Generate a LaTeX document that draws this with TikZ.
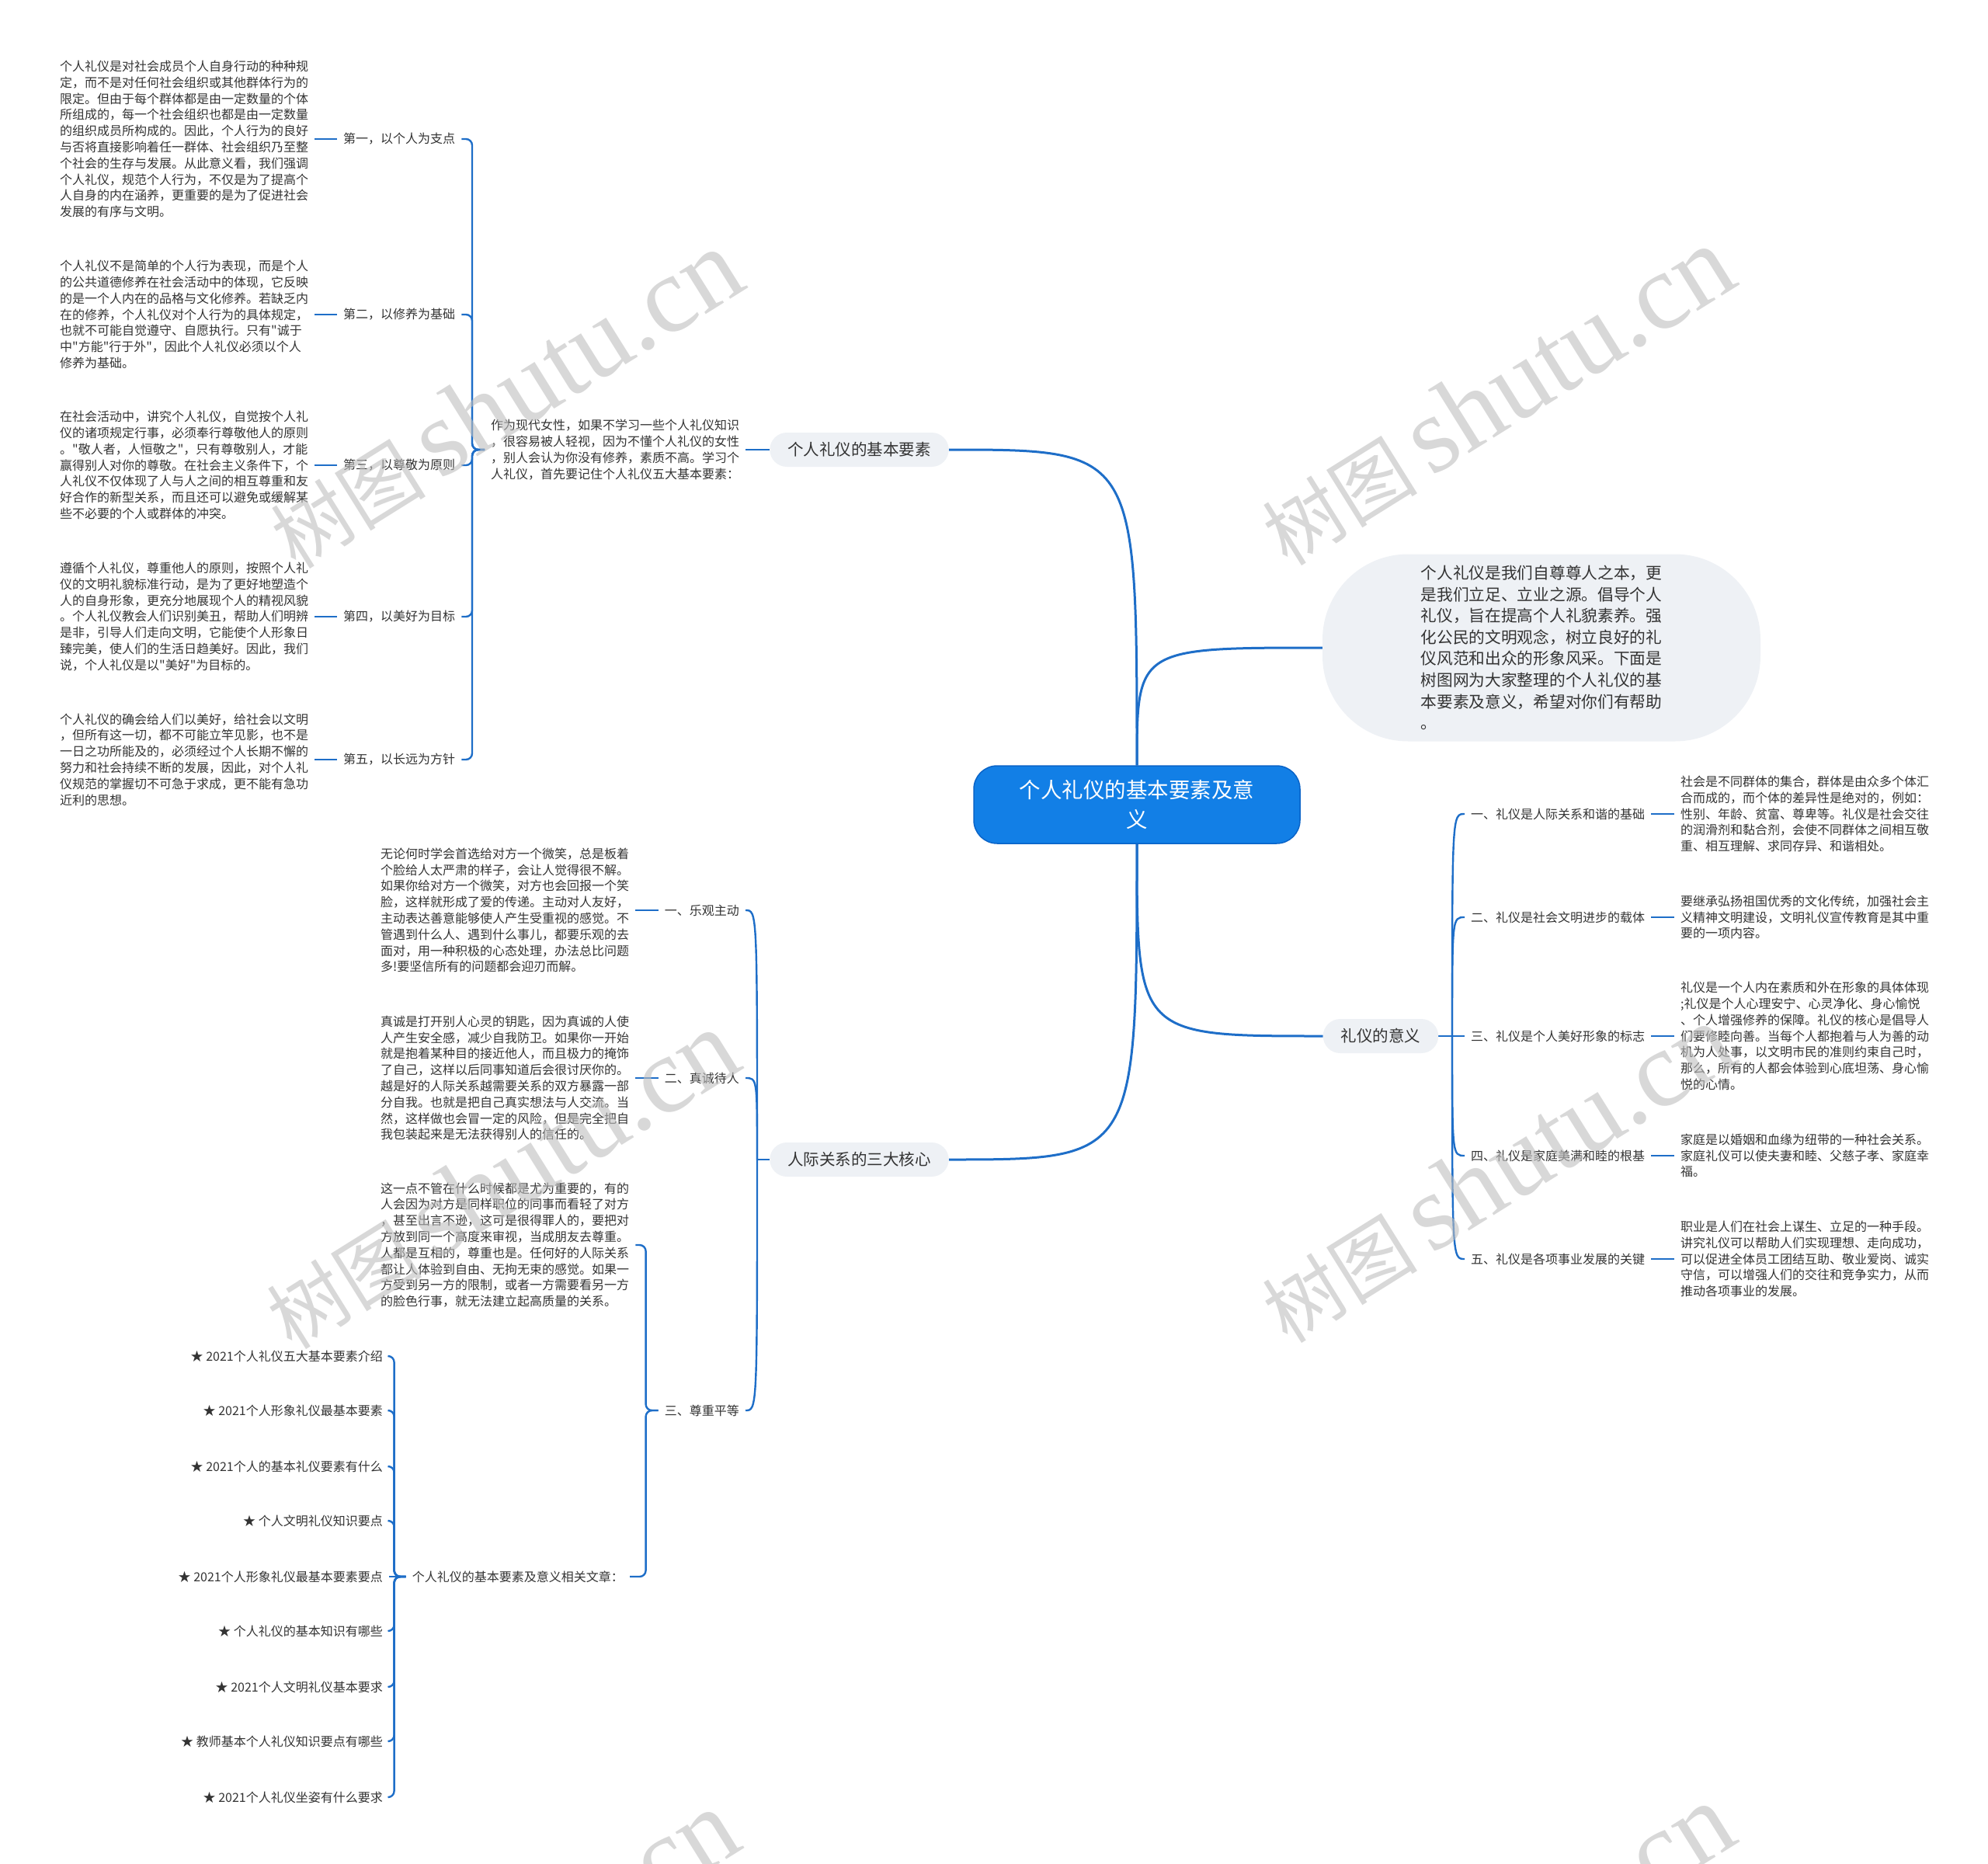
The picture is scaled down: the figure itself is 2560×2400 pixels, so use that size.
\documentclass[tikz,border=0pt]{standalone}
\usepackage{fontspec}
\setmainfont{Noto Sans CJK SC}[Ligatures=TeXOff]
\newfontfamily\wmlatin{Liberation Serif}
\usetikzlibrary{backgrounds,calc}
\definecolor{linkblue}{RGB}{30,110,200}
\definecolor{titlefill}{RGB}{18,127,230}
\definecolor{titledraw}{RGB}{10,100,200}
\definecolor{pillbg}{RGB}{238,241,245}
\definecolor{txt}{RGB}{51,51,51}
\definecolor{wmgray}{RGB}{190,190,190}
\begin{document}
\begin{tikzpicture}[x=1pt,y=-1pt,
  conn/.style={draw=linkblue,line width=2.4pt},
  mainconn/.style={draw=linkblue,line width=3pt},
  body/.style={font=\fontsize{16}{20.8}\selectfont,text=txt,align=left,inner xsep=8pt,inner ysep=0pt},
  lbl/.style={font=\fontsize{16}{20.8}\selectfont,text=txt,inner xsep=8pt,inner ysep=2pt},
  pill/.style={fill=pillbg,rounded corners=22pt,font=\fontsize{20.5}{26}\selectfont,text=txt,minimum height=44pt,inner xsep=23pt,inner ysep=0pt},
  wm/.style={rotate=32,opacity=0.6,text=wmgray,inner sep=0pt}
]
\useasboundingbox (0,0) rectangle (2560,2400);
\clip (0,0) rectangle (2560,2400);

% ---------- centre ----------
\node[fill=titlefill,draw=titledraw,line width=1.5pt,rounded corners=30pt,minimum width=420pt,minimum height=100pt,text=white,align=center,font=\fontsize{27.5}{38}\selectfont] (c) at (1464,1036) {个人礼仪的基本要素及意\\义};

% ---------- level 1 ----------
\node[pill] (b1) at (1106.5,579) {个人礼仪的基本要素};
\node[fill=pillbg,rounded corners=110pt,minimum width=564pt,minimum height=241pt,text=txt,align=left,font=\fontsize{20.7}{27.6}\selectfont] (intro) at (1985,834) {个人礼仪是我们自尊尊人之本，更\\是我们立足、立业之源。倡导个人\\礼仪，旨在提高个人礼貌素养。强\\化公民的文明观念，树立良好的礼\\仪风范和出众的形象风采。下面是\\树图网为大家整理的个人礼仪的基\\本要素及意义，希望对你们有帮助\\。};
\node[pill] (b2) at (1778,1334) {礼仪的意义};
\node[pill] (b3) at (1106.5,1493) {人际关系的三大核心};

% ---------- upper-left branch ----------
\node[body,anchor=west] (p1) at (624,579) {作为现代女性，如果不学习一些个人礼仪知识\\，很容易被人轻视，因为不懂个人礼仪的女性\\，别人会认为你没有修养，素质不高。学习个\\人礼仪，首先要记住个人礼仪五大基本要素：};

\node[lbl,anchor=west] (l1) at (434,179) {第一，以个人为支点};
\node[lbl,anchor=west] (l2) at (434,405) {第二，以修养为基础};
\node[lbl,anchor=west] (l3) at (434,599) {第三，以尊敬为原则};
\node[lbl,anchor=west] (l4) at (434,794) {第四，以美好为目标};
\node[lbl,anchor=west] (l5) at (434,978) {第五，以长远为方针};

\node[body,anchor=west] (a1) at (69,179) {个人礼仪是对社会成员个人自身行动的种种规\\定，而不是对任何社会组织或其他群体行为的\\限定。但由于每个群体都是由一定数量的个体\\所组成的，每一个社会组织也都是由一定数量\\的组织成员所构成的。因此，个人行为的良好\\与否将直接影响着任一群体、社会组织乃至整\\个社会的生存与发展。从此意义看，我们强调\\个人礼仪，规范个人行为，不仅是为了提高个\\人自身的内在涵养，更重要的是为了促进社会\\发展的有序与文明。};
\node[body,anchor=west] (a2) at (69,405) {个人礼仪不是简单的个人行为表现，而是个人\\的公共道德修养在社会活动中的体现，它反映\\的是一个人内在的品格与文化修养。若缺乏内\\在的修养，个人礼仪对个人行为的具体规定，\\也就不可能自觉遵守、自愿执行。只有"诚于\\中"方能"行于外"，因此个人礼仪必须以个人\\修养为基础。};
\node[body,anchor=west] (a3) at (69,599) {在社会活动中，讲究个人礼仪，自觉按个人礼\\仪的诸项规定行事，必须奉行尊敬他人的原则\\。"敬人者，人恒敬之"，只有尊敬别人，才能\\赢得别人对你的尊敬。在社会主义条件下，个\\人礼仪不仅体现了人与人之间的相互尊重和友\\好合作的新型关系，而且还可以避免或缓解某\\些不必要的个人或群体的冲突。};
\node[body,anchor=west] (a4) at (69,794) {遵循个人礼仪，尊重他人的原则，按照个人礼\\仪的文明礼貌标准行动，是为了更好地塑造个\\人的自身形象，更充分地展现个人的精视风貌\\。个人礼仪教会人们识别美丑，帮助人们明辨\\是非，引导人们走向文明，它能使个人形象日\\臻完美，使人们的生活日趋美好。因此，我们\\说，个人礼仪是以"美好"为目标的。};
\node[body,anchor=west] (a5) at (69,978) {个人礼仪的确会给人们以美好，给社会以文明\\，但所有这一切，都不可能立竿见影，也不是\\一日之功所能及的，必须经过个人长期不懈的\\努力和社会持续不断的发展，因此，对个人礼\\仪规范的掌握切不可急于求成，更不能有急功\\近利的思想。};

% ---------- right branch ----------
\coordinate (jr) at (1870,1334);
\node[lbl,anchor=west] (r1) at (1886,1048) {一、礼仪是人际关系和谐的基础};
\node[lbl,anchor=west] (r2) at (1886,1181) {二、礼仪是社会文明进步的载体};
\node[lbl,anchor=west] (r3) at (1886,1334) {三、礼仪是个人美好形象的标志};
\node[lbl,anchor=west] (r4) at (1886,1488) {四、礼仪是家庭美满和睦的根基};
\node[lbl,anchor=west] (r5) at (1886,1621) {五、礼仪是各项事业发展的关键};

\node[body,anchor=west] (rt1) at (2156,1048) {社会是不同群体的集合，群体是由众多个体汇\\合而成的，而个体的差异性是绝对的，例如：\\性别、年龄、贫富、尊卑等。礼仪是社会交往\\的润滑剂和黏合剂，会使不同群体之间相互敬\\重、相互理解、求同存异、和谐相处。};
\node[body,anchor=west] (rt2) at (2156,1181) {要继承弘扬祖国优秀的文化传统，加强社会主\\义精神文明建设，文明礼仪宣传教育是其中重\\要的一项内容。};
\node[body,anchor=west] (rt3) at (2156,1334) {礼仪是一个人内在素质和外在形象的具体体现\\;礼仪是个人心理安宁、心灵净化、身心愉悦\\、个人增强修养的保障。礼仪的核心是倡导人\\们要修睦向善。当每个人都抱着与人为善的动\\机为人处事，以文明市民的准则约束自己时，\\那么，所有的人都会体验到心底坦荡、身心愉\\悦的心情。};
\node[body,anchor=west] (rt4) at (2156,1488) {家庭是以婚姻和血缘为纽带的一种社会关系。\\家庭礼仪可以使夫妻和睦、父慈子孝、家庭幸\\福。};
\node[body,anchor=west] (rt5) at (2156,1621) {职业是人们在社会上谋生、立足的一种手段。\\讲究礼仪可以帮助人们实现理想、走向成功，\\可以促进全体员工团结互助、敬业爱岗、诚实\\守信，可以增强人们的交往和竞争实力，从而\\推动各项事业的发展。};

% ---------- lower-left branch ----------
\coordinate (jl) at (975,1493);
\node[lbl,anchor=east] (m1) at (960,1172) {一、乐观主动};
\node[lbl,anchor=east] (m2) at (960,1388) {二、真诚待人};
\node[lbl,anchor=east] (m3) at (960,1816) {三、尊重平等};

\node[body,anchor=west] (mt1) at (482,1172) {无论何时学会首选给对方一个微笑，总是板着\\个脸给人太严肃的样子，会让人觉得很不解。\\如果你给对方一个微笑，对方也会回报一个笑\\脸，这样就形成了爱的传递。主动对人友好，\\主动表达善意能够使人产生受重视的感觉。不\\管遇到什么人、遇到什么事儿，都要乐观的去\\面对，用一种积极的心态处理，办法总比问题\\多!要坚信所有的问题都会迎刃而解。};
\node[body,anchor=west] (mt2) at (482,1388) {真诚是打开别人心灵的钥匙，因为真诚的人使\\人产生安全感，减少自我防卫。如果你一开始\\就是抱着某种目的接近他人，而且极力的掩饰\\了自己，这样以后同事知道后会很讨厌你的。\\越是好的人际关系越需要关系的双方暴露一部\\分自我。也就是把自己真实想法与人交流。当\\然，这样做也会冒一定的风险，但是完全把自\\我包装起来是无法获得别人的信任的。};
\node[body,anchor=west] (mt3) at (482,1603) {这一点不管在什么时候都是尤为重要的，有的\\人会因为对方是同样职位的同事而看轻了对方\\，甚至出言不逊，这可是很得罪人的，要把对\\方放到同一个高度来审视，当成朋友去尊重。\\人都是互相的，尊重也是。任何好的人际关系\\都让人体验到自由、无拘无束的感觉。如果一\\方受到另一方的限制，或者一方需要看另一方\\的脸色行事，就无法建立起高质量的关系。};
\node[lbl,anchor=east] (rel) at (811,2030) {个人礼仪的基本要素及意义相关文章：};

\node[lbl,anchor=east] (s1) at (501,1746) {★ 2021个人礼仪五大基本要素介绍};
\node[lbl,anchor=east] (s2) at (501,1816) {★ 2021个人形象礼仪最基本要素};
\node[lbl,anchor=east] (s3) at (501,1888) {★ 2021个人的基本礼仪要素有什么};
\node[lbl,anchor=east] (s4) at (501,1958) {★ 个人文明礼仪知识要点};
\node[lbl,anchor=east] (s5) at (501,2030) {★ 2021个人形象礼仪最基本要素要点};
\node[lbl,anchor=east] (s6) at (501,2100) {★ 个人礼仪的基本知识有哪些};
\node[lbl,anchor=east] (s7) at (501,2172) {★ 2021个人文明礼仪基本要求};
\node[lbl,anchor=east] (s8) at (501,2242) {★ 教师基本个人礼仪知识要点有哪些};
\node[lbl,anchor=east] (s9) at (501,2314) {★ 2021个人礼仪坐姿有什么要求};

% ---------- connectors ----------
\begin{pgfonlayer}{background}
\draw[mainconn] (c.north) .. controls (c.north |- b1.east) .. (b1.east);
\draw[mainconn] (c.north) .. controls (c.north |- intro.west) .. (intro.west);
\draw[mainconn] (c.south) .. controls (c.south |- b2.west) .. (b2.west);
\draw[mainconn] (c.south) .. controls (c.south |- b3.east) .. (b3.east);

\draw[conn] (b1.west) -- (p1.east);
\foreach \k in {1,...,5} {
  \draw[conn,rounded corners=8pt] (p1.west) -- ++(-16,0) |- (l\k.east);
  \draw[conn] (l\k.west) -- (a\k.east);
}

\draw[conn] (b2.east) -- (jr);
\foreach \k in {1,2,4,5} {
  \draw[conn] (jr) .. controls (jr |- r\k.west) .. (r\k.west);
}
\draw[conn] (jr) -- (r3.west);
\foreach \k in {1,...,5} {
  \draw[conn] (r\k.east) -- (rt\k.west);
}

\draw[conn] (b3.west) -- (jl);
\foreach \k in {1,2,3} {
  \draw[conn] (jl) .. controls (jl |- m\k.east) .. (m\k.east);
}
\draw[conn] (m1.west) -- (mt1.east);
\draw[conn] (m2.west) -- (mt2.east);
\draw[conn,rounded corners=8pt] (m3.west) -- ++(-16,0) |- (mt3.east);
\draw[conn,rounded corners=8pt] (m3.west) -- ++(-16,0) |- (rel.east);

\foreach \k in {1,2,3,4,6,7,8,9} {
  \draw[conn,rounded corners=8pt] (rel.west) -- ++(-15,0) |- (s\k.east);
}
\draw[conn] (rel.west) -- (s5.east);
\end{pgfonlayer}

% ---------- watermarks ----------
\foreach \wx/\wy [count=\n] in {650/514,1927/510,645/1519,1927/1511,645/2523,1927/2515} {
  \node[wm] (wm\n) at (\wx,\wy) {{\fontsize{100}{100}\selectfont 树图}\hspace{18pt}{\wmlatin\fontsize{140}{140}\selectfont shutu.cn}};
}
\end{tikzpicture}
\end{document}
